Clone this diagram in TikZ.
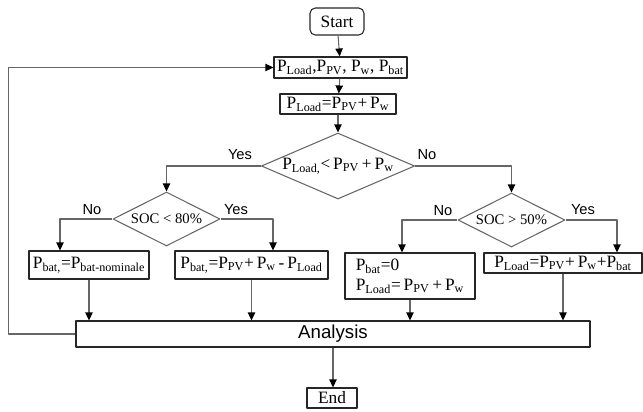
\documentclass[tikz,border=0pt]{standalone}
\usepackage{fontspec}
\setmainfont{Liberation Serif}
\setsansfont{Liberation Sans}
\usetikzlibrary{shapes.geometric,calc,arrows.meta}
\newcommand{\pwr}[1]{P\textsubscript{#1}}
\begin{document}
\begin{tikzpicture}[x=0.75pt,y=-0.75pt,line join=round,
	box/.style={draw=black!85,line width=0.8pt,inner sep=1pt,font=\fontsize{13}{15}\selectfont},
	dec/.style={draw=black!60,diamond,inner sep=0pt,line width=0.8pt,font=\fontsize{11}{13}\selectfont},
	lab/.style={font=\sffamily\fontsize{11}{13}\selectfont},
	arr/.style={-{Triangle[width=5.5pt,length=6pt,color=black]},draw=black!60,line width=0.8pt}]
	\def\px{0.75pt}
	\useasboundingbox (0,0) rectangle (643,411);
	% boxes
	\node[box,rounded corners=4pt,minimum width=54*\px,minimum height=27*\px] (start) at (337,21.5) {Start};
	\node[box,minimum width=133*\px,minimum height=21*\px] (in) at (340.5,67.5) {\pwr{Load},\pwr{PV}, \pwr{w}, \pwr{bat}};
	\node[box,minimum width=116*\px,minimum height=20*\px] (eq) at (338,104) {\pwr{Load}=\pwr{PV}+\,\pwr{w}};
	\node[dec,aspect=2.6,font=\fontsize{13}{15}\selectfont,minimum width=150*\px,minimum height=66*\px] (d1) at (338,166) {\pwr{Load,}<\,\pwr{PV}\,+\,\pwr{w}};
	\node[dec,aspect=2.2,minimum width=107*\px,minimum height=54*\px] (d2) at (166.5,219) {SOC < 80\%};
	\node[dec,aspect=2.2,minimum width=107*\px,minimum height=54*\px] (d3) at (511.5,220) {SOC > 50\%};
	\node[box,minimum width=120*\px,minimum height=28*\px] (b1) at (89,265) {\pwr{bat,}=\pwr{bat-nominale}};
	\node[box,minimum width=153*\px,minimum height=28*\px] (b2) at (251.5,265) {\pwr{bat,}=\pwr{PV}+\,\pwr{w}\,-\,\pwr{Load}};
	\node[box,minimum width=130*\px,minimum height=46*\px,align=left] (b3) at (410,276) {\pwr{bat}=0\\\pwr{Load}=\,\pwr{PV}\,+\,\pwr{w}};
	\node[box,minimum width=158*\px,minimum height=20*\px] (b4) at (563,263) {\pwr{Load}=\pwr{PV}+\,\pwr{w}+\pwr{bat}};
	\node[box,font=\sffamily\fontsize{14}{16}\selectfont,minimum width=514*\px,minimum height=26*\px] (an) at (333,334) {Analysis};
	\node[box,minimum width=50*\px,minimum height=20*\px] (en) at (332,398) {End};
	% labels
	\node[lab] (y1) at (240,155) {Yes};
	\node[lab] (n1) at (427,155) {No};
	\node[lab] (n2) at (92,210) {No};
	\node[lab] (y2) at (236,210) {Yes};
	\node[lab] (n3) at (443,211) {No};
	\node[lab] (y3) at (583,210) {Yes};
	% connectors
	\draw[arr] (start)--(in);
	\draw[arr] (in)--(eq);
	\draw[arr] (eq)--(d1);
	\draw[arr] (d1.west)-|(d2.north);
	\draw[arr] (d1.east)-|(d3.north);
	\draw[arr] (d2.west)-|($(b1.north)+(-29,0)$);
	\draw[arr] (d2.east)-|($(b2.north)+(21.5,0)$);
	\draw[arr] (d3.west)-|($(b3.north)+(-8,0)$);
	\draw[arr] (d3.east)-|($(b4.north)+(54,0)$);
	\draw[arr] (b1.south)--(b1.south |- an.north);
	\draw[arr] (b2.south)--(b2.south |- an.north);
	\draw[arr] (b3.south)--(b3.south |- an.north);
	\draw[arr] (b4.south)--(b4.south |- an.north);
	\draw[arr] (an.south)--(an.south |- en.north);
	\draw[arr] (an.west)--++(-67,0)|-(in.west);
\end{tikzpicture}
\end{document}
